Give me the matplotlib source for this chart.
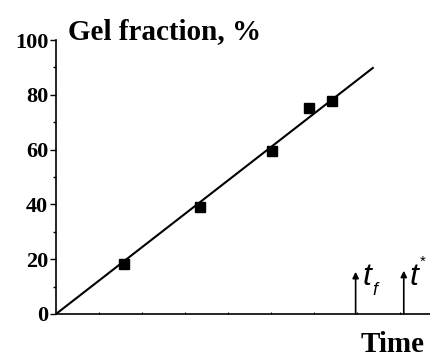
import matplotlib
matplotlib.use('Agg')
import matplotlib.pyplot as plt

# measured points (gel fraction vs time, arbitrary time units)
time_pts = [1.58, 3.35, 5.02, 5.88, 6.41]
gel_pts = [18.1, 38.9, 59.5, 75.1, 77.8]

# linear fit line
fit_x = [0, 7.37]
fit_y = [0, 89.8]

# characteristic times marked with arrows
arrow_x = [6.97, 8.09]
arrow_top = [15.4, 15.8]

yticks = [0, 20, 40, 60, 80, 100]

plt.rcParams['font.family'] = 'Liberation Serif'

fig = plt.figure(figsize=(4.3, 3.62), dpi=100)
ax = fig.add_axes([0.1302, 0.1326, 0.8698, 0.7569])

ax.plot(fit_x, fit_y, color='black', lw=1.5)
ax.plot(time_pts, gel_pts, 's', color='black', ms=7.8)

for x, top in zip(arrow_x, arrow_top):
    ax.annotate('', xy=(x, top), xytext=(x, 0),
                arrowprops=dict(arrowstyle='-|>', color='black', lw=1.2,
                                mutation_scale=9, shrinkA=0, shrinkB=0))

# labels next to the arrows: t_f and t*
sans_it = dict(family='Liberation Sans', style='italic', color='black')
ax.text(arrow_x[0] + 0.15, 10.6, 't', fontsize=23, va='baseline', **sans_it)
ax.text(arrow_x[0] + 0.38, 7.0, 'f', fontsize=13, va='baseline', **sans_it)
ax.text(arrow_x[1] + 0.14, 10.6, 't', fontsize=23, va='baseline', **sans_it)
ax.text(arrow_x[1] + 0.38, 17.5, '*', fontsize=11, va='baseline',
        family='Liberation Sans', color='black')

ax.set_xlim(0, 8.7)
ax.set_ylim(0, 100)
ax.spines['top'].set_visible(False)
ax.spines['right'].set_visible(False)
ax.spines['left'].set_linewidth(1.2)
ax.spines['bottom'].set_linewidth(1.2)

ax.set_yticks(yticks)
ax.set_yticks([10, 30, 50, 70, 90], minor=True)
ax.set_yticklabels([str(v) for v in yticks], fontsize=16, fontweight='bold')
ax.tick_params(axis='y', which='major', length=4, width=1, pad=1.5)
ax.tick_params(axis='y', which='minor', length=2.5, width=1)

ax.set_xticks([1, 2, 3, 4, 5, 6, 7, 8])
ax.set_xticklabels([])
ax.tick_params(axis='x', direction='in', length=1.5, width=0.8)

fig.text(68 / 430, 1 - 39 / 362, 'Gel fraction, %', fontsize=21,
         fontweight='bold', ha='left', va='baseline')
fig.text(425 / 430, 1 - 352 / 362, 'Time', fontsize=21,
         fontweight='bold', ha='right', va='baseline')

fig.savefig('out.png', dpi=100)
